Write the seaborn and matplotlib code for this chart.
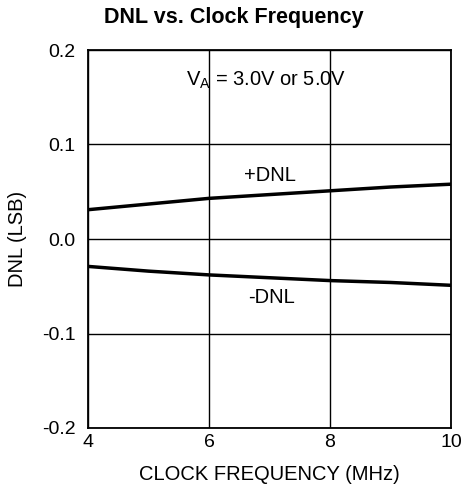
import numpy as np
import pandas as pd
import matplotlib
matplotlib.use("Agg")
import matplotlib.pyplot as plt
import seaborn as sns

# Data
freq_mhz = [4, 5, 6, 7, 8, 9, 10]
dnl_pos = [0.031, 0.037, 0.043, 0.047, 0.051, 0.055, 0.058]
dnl_neg = [-0.029, -0.034, -0.038, -0.041, -0.044, -0.046, -0.049]

df = pd.DataFrame({
    "freq": freq_mhz * 2,
    "dnl": dnl_pos + dnl_neg,
    "curve": ["+DNL"] * len(freq_mhz) + ["-DNL"] * len(freq_mhz),
})

sns.set_style("white")
plt.rcParams["font.family"] = ["Liberation Sans", "DejaVu Sans"]
plt.rcParams["text.color"] = "black"
plt.rcParams["axes.labelcolor"] = "black"

fig = plt.figure(figsize=(4.64, 4.94), dpi=100)
ax = fig.add_axes([88 / 464, 1 - 428 / 494, (451 - 88) / 464, (428 - 50) / 494])

sns.lineplot(data=df, x="freq", y="dnl", units="curve", estimator=None,
             color="black", linewidth=2.5, ax=ax, legend=False)

ax.set_xlim(4, 10)
ax.set_ylim(-0.2, 0.2)
ax.set_xticks([4, 6, 8, 10])
ax.set_yticks([-0.2, -0.1, 0.0, 0.1, 0.2])
ax.set_yticklabels(["-0.2", "-0.1", "0.0", "0.1", "0.2"])
ax.tick_params(axis="both", length=0, labelsize=14, colors="black")
ax.tick_params(axis="y", pad=9)
ax.tick_params(axis="x", pad=4)

ax.grid(True, color="black", linewidth=1.0)
for s in ax.spines.values():
    s.set_color("black")
    s.set_linewidth(1.3)

ax.set_xlabel("CLOCK FREQUENCY (MHz)", fontsize=14.5, color="black")
ax.set_ylabel("DNL (LSB)", fontsize=14.5, color="black")
ax.xaxis.set_label_coords(0.5, -0.124)
ax.yaxis.set_label_coords(-0.193, 0.5)
ax.xaxis.label.set_va("center")
ax.yaxis.label.set_va("center")

ax.text(6.94, 0.168, r"V$_\mathregular{A}$ = 3.0V or 5.0V", ha="center", va="center",
        fontsize=14.5, color="black")
ax.text(7.01, 0.0677, "+DNL", ha="center", va="center", fontsize=14.5, color="black")
ax.text(7.03, -0.0624, "-DNL", ha="center", va="center", fontsize=14.5, color="black")

fig.text(234 / 464, 1 - 18 / 494, "DNL vs. Clock Frequency", ha="center", va="center",
         fontsize=15.5, fontweight="bold", color="black")

fig.savefig("out.png", dpi=100)
